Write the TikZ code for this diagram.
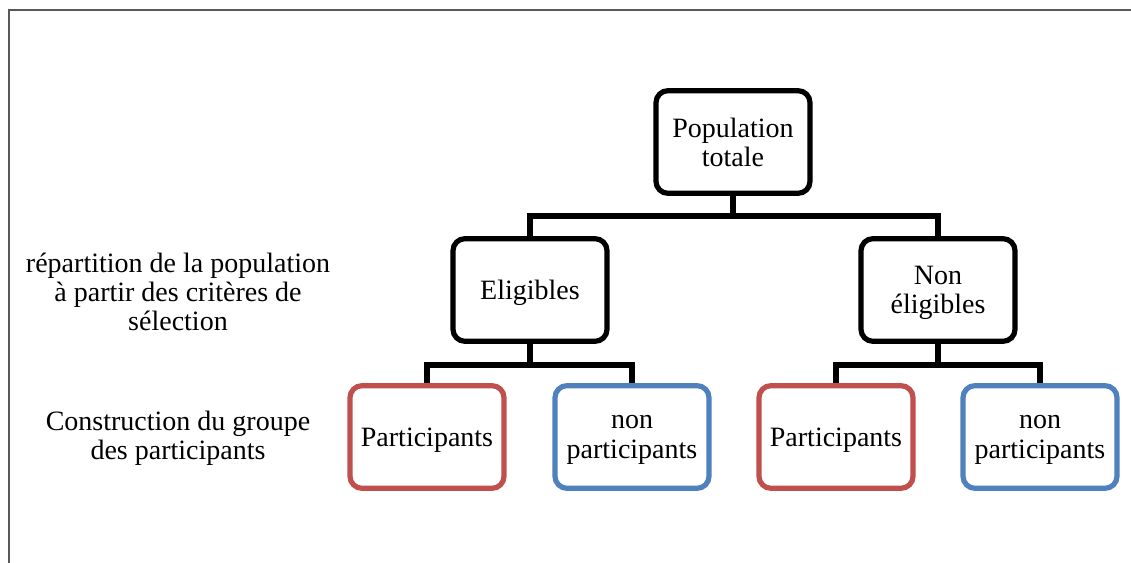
\documentclass[tikz,border=0pt]{standalone}
\usepackage{fontspec}
\setmainfont{Liberation Serif}
\usepackage{tikz}
\usetikzlibrary{positioning}
\definecolor{boxred}{HTML}{C0504D}
\definecolor{boxblue}{HTML}{4F81BD}
\tikzset{
  box/.style={draw=black,line width=3.9pt,rounded corners=9pt,fill=white,
    minimum width=115.5pt,minimum height=77pt,align=center,inner sep=2pt,
    text depth=0pt,font=\fontsize{21}{22}\selectfont},
  redbox/.style={box,draw=boxred},
  bluebox/.style={box,draw=boxblue},
  conn/.style={line width=3.9pt},
  side/.style={align=center,font=\fontsize{21}{21.5}\selectfont}
}

\begin{document}
\begin{tikzpicture}[x=0.75pt,y=-0.75pt]
\useasboundingbox (0,0) rectangle (1131,563);
\draw [line width=1.5pt,black!65] (9,575) -- (9,10) -- (1145,10);
% tree
\node [box] (pop) at (733,142) {Population\\totale};
\node [box] (elig) at (530,290) {Eligibles};
\node [box] (nonelig) at (938,290) {Non\\éligibles};
\node [redbox] (partA) at (427,437) {Participants};
\node [bluebox] (nonpartA) at (632,437) {non\\participants};
\node [redbox] (partB) at (836,437) {Participants};
\node [bluebox] (nonpartB) at (1040,437) {non\\participants};
\draw [conn] (pop.south) -- ++(0,20) -| (elig.north);
\draw [conn] (pop.south) -- ++(0,20) -| (nonelig.north);
\draw [conn] (elig.south) -- ++(0,21) -| (partA.north);
\draw [conn] (elig.south) -- ++(0,21) -| (nonpartA.north);
\draw [conn] (nonelig.south) -- ++(0,21) -| (partB.north);
\draw [conn] (nonelig.south) -- ++(0,21) -| (nonpartB.north);
% labels
\node [side] (step1) at (178,292) {répartition de la population\\à partir des critères de\\sélection};
\node [side] (step2) at (178,438) {Construction du groupe\\des participants};
\end{tikzpicture}
\end{document}
